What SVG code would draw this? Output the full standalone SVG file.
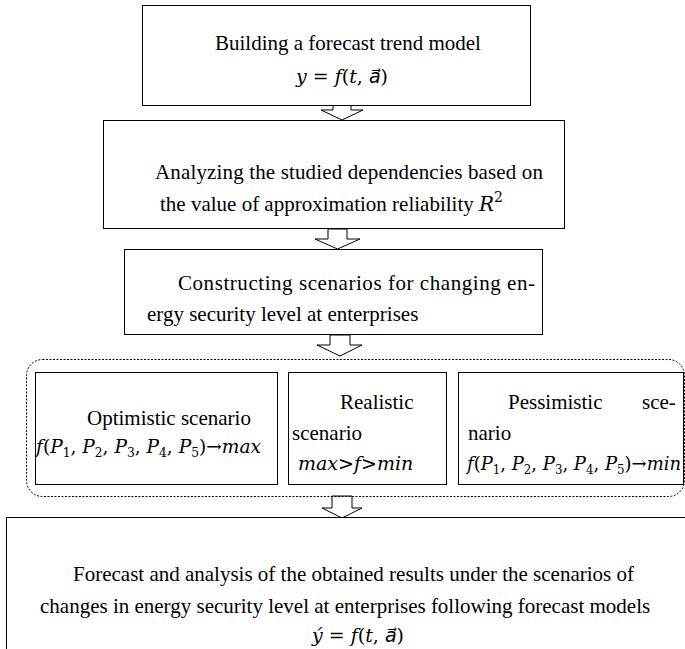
<svg xmlns="http://www.w3.org/2000/svg" width="685" height="649" viewBox="0 0 685 649">
<style>
.box{fill:#fff;stroke:#000;stroke-width:1}
.arr{fill:#fff;stroke:#000;stroke-width:1;stroke-linejoin:miter}
.dot{fill:none;stroke:#000;stroke-width:1;stroke-dasharray:2 1.5}
text{font-family:"Liberation Serif","Times New Roman",serif;font-size:21px;fill:#000}
text.m{font-family:"DejaVu Serif","DejaVu Sans",serif;font-size:19px}
.i{font-style:italic}
.sub{font-size:12.5px}
</style>
<defs>
<clipPath id="pclip"><rect x="459" y="372" width="226" height="102"/></clipPath>
</defs>
<rect width="685" height="649" fill="#fff"/>
<g id="connectors">
<polygon class="arr" points="333,105 351,105 351,110 363,110 342,120 321,110 333,110"/>
<polygon class="arr" points="328,229 347,229 347,239 360,239 337.5,249 315,239 328,239"/>
<polygon class="arr" points="330,335 350,335 350,345 362,345 340,356 317,345 330,345"/>
<polygon class="arr" points="332,496 352,496 352,508 362,508 342,518 322,508 332,508"/>
</g>
<g id="node1">
<rect class="box" x="142.5" y="5.5" width="388" height="100"/>
<text x="215" y="50">Building a forecast trend model</text>
<text class="m" x="296" y="83"><tspan class="i">y</tspan> = <tspan class="i">f</tspan>(<tspan class="i">t</tspan>, <tspan class="i">a⃗</tspan>)</text>
</g>
<g id="node2">
<rect class="box" x="103.5" y="120.5" width="461" height="108"/>
<text x="155" y="179" textLength="388" lengthAdjust="spacing">Analyzing the studied dependencies based on</text>
<text x="160" y="211">the value of approximation reliability <tspan class="i" font-family="DejaVu Serif, serif" font-size="20">R</tspan><tspan font-family="DejaVu Serif, serif" font-size="14" dy="-9">2</tspan></text>
</g>
<g id="node3">
<rect class="box" x="124.5" y="249.5" width="418" height="85"/>
<text x="178" y="290" textLength="357" lengthAdjust="spacing">Constructing scenarios for changing en-</text>
<text x="147" y="321">ergy security level at enterprises</text>
</g>
<g id="group">
<rect class="dot" x="26.5" y="359.5" width="658" height="137" rx="16" ry="16"/>
</g>
<g id="node-optimistic">
<rect class="box" x="35.5" y="372.5" width="242" height="112"/>
<text x="87" y="425">Optimistic scenario</text>
<text class="m" x="36" y="453" textLength="225" lengthAdjust="spacingAndGlyphs"><tspan class="i">f</tspan>(<tspan class="i">P</tspan><tspan class="sub" dy="4">1</tspan><tspan dy="-4">, </tspan><tspan class="i">P</tspan><tspan class="sub" dy="4">2</tspan><tspan dy="-4">, </tspan><tspan class="i">P</tspan><tspan class="sub" dy="4">3</tspan><tspan dy="-4">, </tspan><tspan class="i">P</tspan><tspan class="sub" dy="4">4</tspan><tspan dy="-4">, </tspan><tspan class="i">P</tspan><tspan class="sub" dy="4">5</tspan><tspan dy="-4">)→</tspan><tspan class="i">max</tspan></text>
</g>
<g id="node-realistic">
<rect class="box" x="288.5" y="372.5" width="158" height="112"/>
<text x="340" y="409">Realistic</text>
<text x="292" y="440">scenario</text>
<text class="m" x="298" y="470" font-size="20"><tspan class="i">max</tspan>&gt;<tspan class="i">f</tspan>&gt;<tspan class="i">min</tspan></text>
</g>
<g id="node-pessimistic">
<rect class="box" x="458.5" y="372.5" width="225" height="112"/>
<text x="508" y="409">Pessimistic</text>
<text x="642" y="409">sce-</text>
<text x="468" y="440">nario</text>
<text class="m" x="467" y="470" textLength="214" lengthAdjust="spacingAndGlyphs"><tspan class="i">f</tspan>(<tspan class="i">P</tspan><tspan class="sub" dy="4">1</tspan><tspan dy="-4">, </tspan><tspan class="i">P</tspan><tspan class="sub" dy="4">2</tspan><tspan dy="-4">, </tspan><tspan class="i">P</tspan><tspan class="sub" dy="4">3</tspan><tspan dy="-4">, </tspan><tspan class="i">P</tspan><tspan class="sub" dy="4">4</tspan><tspan dy="-4">, </tspan><tspan class="i">P</tspan><tspan class="sub" dy="4">5</tspan><tspan dy="-4">)→</tspan><tspan class="i">min</tspan></text>
</g>
<g id="node-final">
<path d="M6.5,650 V517.5 H686" fill="#fff" stroke="#000" stroke-width="1"/>
<text x="73" y="581">Forecast and analysis of the obtained results under the scenarios of</text>
<text x="40" y="613">changes in energy security level at enterprises following forecast models</text>
<text class="m" x="312" y="642"><tspan class="i">ý</tspan> = <tspan class="i">f</tspan>(<tspan class="i">t</tspan>, <tspan class="i">a⃗</tspan>)</text>
</g>
</svg>
